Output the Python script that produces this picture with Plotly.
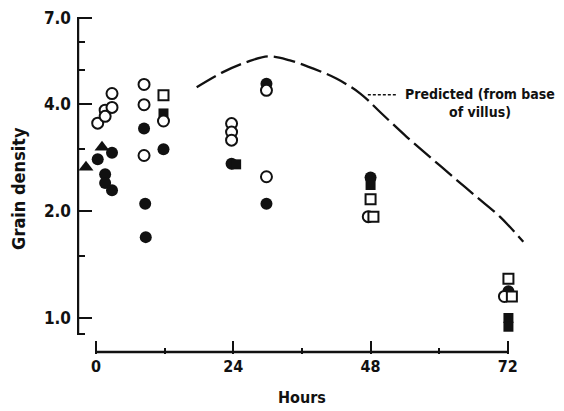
import plotly.graph_objects as go

# ---- data (hours, grain density) ----
open_circle_x = [0.3, 1.6, 1.6, 2.8, 2.8, 8.4, 8.4, 8.4, 11.8, 23.7, 23.7, 23.7, 29.8, 29.8, 47.6, 71.4]
open_circle_y = [3.54, 3.85, 3.70, 3.92, 4.29, 4.55, 3.99, 2.87, 3.59, 3.53, 3.34, 3.17, 4.38, 2.50, 1.93, 1.15]

filled_circle_x = [0.3, 2.8, 1.6, 1.6, 2.8, 8.4, 8.6, 8.7, 11.8, 23.7, 29.8, 29.8, 48.0, 72.1]
filled_circle_y = [2.80, 2.92, 2.54, 2.40, 2.29, 3.42, 2.10, 1.69, 2.99, 2.72, 4.57, 2.10, 2.49, 1.19]

open_square_x = [11.8, 48.0, 48.5, 72.1, 72.7]
open_square_y = [4.24, 2.16, 1.93, 1.29, 1.15]

filled_square_x = [11.8, 24.5, 48.0, 72.1, 72.1]
filled_square_y = [3.77, 2.71, 2.37, 1.00, 0.945]

filled_triangle_x = [-1.75, 1.05]
filled_triangle_y = [2.66, 3.03]

predicted_x = [17.6, 22.2, 26.3, 30.1, 33.9, 37.9, 42.1, 46.2, 49.7, 54.3, 58.4, 62.4, 66.6, 70.6, 74.7]
predicted_y = [4.47, 4.93, 5.26, 5.46, 5.32, 5.05, 4.72, 4.29, 3.80, 3.24, 2.84, 2.50, 2.19, 1.93, 1.64]

x_major = [0, 24, 48, 72]
x_minor = [12, 36, 60]
y_major = [1.0, 2.0, 4.0, 7.0]
y_major_text = ["1.0", "2.0", "4.0", "7.0"]
y_minor = [0.9, 1.5, 3.0, 5.0, 6.0]

FONT = "DejaVu Sans Condensed, Liberation Sans Narrow, sans-serif"
BLACK = "#111111"

# where the drawn axis lines sit (y axis line at -3.15 h, x axis line at density 0.8025)
Y_AXIS_AT = -3.15
X_AXIS_AT = 0.8025

fig = go.Figure()

# axis lines, spanning only the labelled ranges
fig.add_trace(go.Scatter(x=[Y_AXIS_AT, Y_AXIS_AT], y=[min(y_minor), max(y_major)], mode="lines",
                         line=dict(color=BLACK, width=2.5), hoverinfo="skip"))
fig.add_trace(go.Scatter(x=[min(x_major), max(x_major)], y=[X_AXIS_AT, X_AXIS_AT], mode="lines",
                         line=dict(color=BLACK, width=2.5), hoverinfo="skip"))

fig.add_trace(go.Scatter(x=predicted_x, y=predicted_y, mode="lines",
                         line=dict(color=BLACK, width=2.3, dash="22px,6px", shape="spline"),
                         hoverinfo="skip"))

fig.add_trace(go.Scatter(x=filled_triangle_x, y=filled_triangle_y, mode="markers",
                         marker=dict(symbol="triangle-up", size=13, color=BLACK, line=dict(width=0))))
fig.add_trace(go.Scatter(x=filled_circle_x, y=filled_circle_y, mode="markers",
                         marker=dict(symbol="circle", size=12, color=BLACK, line=dict(width=0))))
fig.add_trace(go.Scatter(x=filled_square_x, y=filled_square_y, mode="markers",
                         marker=dict(symbol="square", size=10, color=BLACK, line=dict(width=0))))
fig.add_trace(go.Scatter(x=open_circle_x, y=open_circle_y, mode="markers",
                         marker=dict(symbol="circle", size=11, color="white",
                                     line=dict(width=2, color=BLACK))))
fig.add_trace(go.Scatter(x=open_square_x, y=open_square_y, mode="markers",
                         marker=dict(symbol="square", size=10, color="white",
                                     line=dict(width=2, color=BLACK))))

# legend key for the predicted line
fig.add_shape(type="line", xref="paper", yref="paper", x0=0.642, x1=0.706, y0=0.769, y1=0.769,
              line=dict(color=BLACK, width=1.5, dash="3px,2px"))
fig.add_annotation(xref="paper", yref="paper", x=0.889, y=0.80, xanchor="center", yanchor="top",
                   text="<b>Predicted (from base<br>of villus)</b>", showarrow=False,
                   align="center", font=dict(family=FONT, size=14, color=BLACK))

fig.add_annotation(xref="paper", yref="paper", x=0.497, y=-0.13, xanchor="center", yanchor="middle",
                   text="<b>Hours</b>", showarrow=False, font=dict(family=FONT, size=16, color=BLACK))
fig.add_annotation(xref="paper", yref="paper", x=-0.128, y=0.49, xanchor="center", yanchor="middle",
                   text="<b>Grain density</b>", textangle=-90, showarrow=False,
                   font=dict(family=FONT, size=18, color=BLACK))

# page body has an 8px margin, so the figure is 8px smaller than the window
fig.update_layout(
    width=556, height=403,
    margin=dict(l=69, r=34, t=9, b=57),
    paper_bgcolor="white", plot_bgcolor="white",
    showlegend=False,
    xaxis=dict(range=[-3.32, 75.87], automargin=False, showline=False, showgrid=False, zeroline=False,
               tickmode="array", tickvals=x_major, ticktext=[f"<b>{v}</b>" for v in x_major],
               ticks="inside", ticklen=13, tickwidth=2, tickcolor=BLACK,
               tickfont=dict(family=FONT, size=16, color=BLACK), ticklabelstandoff=1,
               ticklabeloverflow="allow",
               minor=dict(tickmode="array", tickvals=x_minor, ticks="inside", ticklen=6,
                          tickwidth=2, tickcolor=BLACK, showgrid=False)),
    yaxis=dict(type="log", range=[-0.1014, 0.8481], automargin=False, showline=False, showgrid=False,
               zeroline=False,
               tickmode="array", tickvals=y_major, ticktext=[f"<b>{t}</b>" for t in y_major_text],
               ticks="inside", ticklen=15, tickwidth=2, tickcolor=BLACK,
               tickfont=dict(family=FONT, size=17, color=BLACK), ticklabelstandoff=5,
               ticklabeloverflow="allow",
               minor=dict(tickmode="array", tickvals=y_minor, ticks="inside", ticklen=8,
                          tickwidth=2, tickcolor=BLACK, showgrid=False)),
)

fig.write_html("out.html")
